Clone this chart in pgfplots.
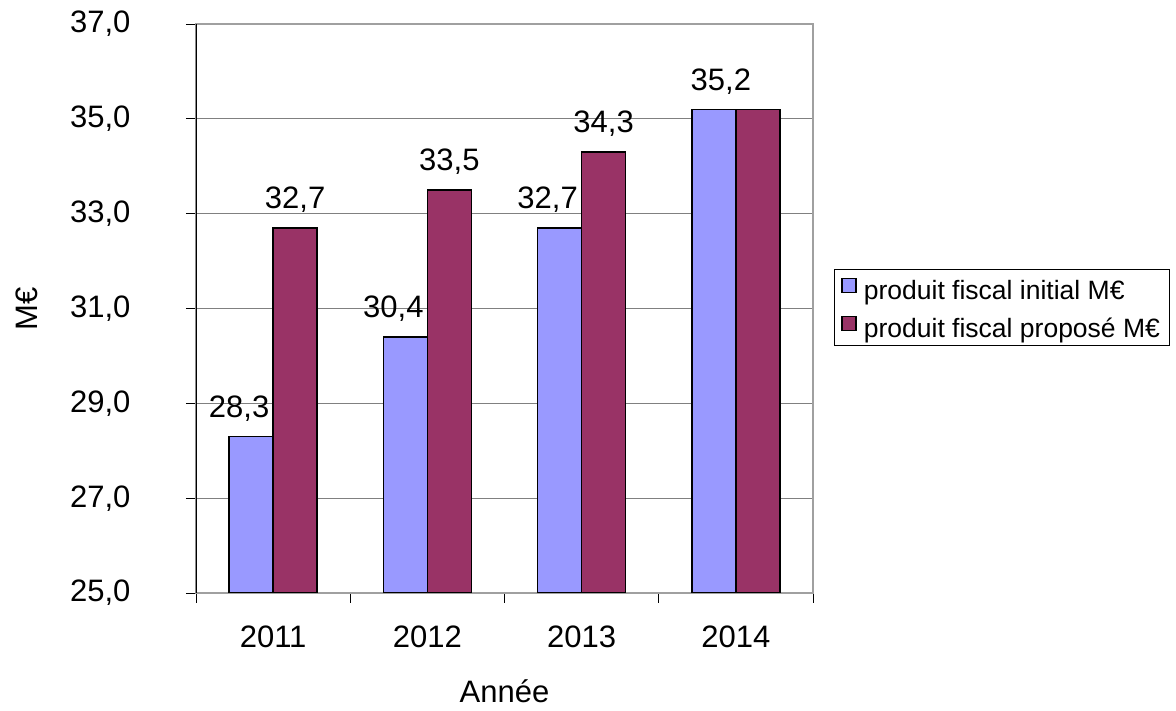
\documentclass[border=0pt]{standalone}
\usepackage{pgfplots}
\pgfplotsset{compat=1.18}
\usepackage{fontspec}
\setmainfont{Liberation Sans}
\definecolor{cblue}{HTML}{9999FF}
\definecolor{cplum}{HTML}{993366}
\definecolor{gridg}{HTML}{808080}
\definecolor{frameg}{HTML}{A0A0A0}
\begin{document}
\begin{tikzpicture}[x=1pt,y=1pt]
\path[use as bounding box] (0,0) rectangle (1176,711);
\begin{axis}[
  at={(196pt,118pt)}, anchor=south west,
  scale only axis, width=617pt, height=569pt,
  xmin=-0.5, xmax=3.5, ymin=25, ymax=37,
  ytick={25,27,29,31,33,35,37},
  xtick={0,1,2,3}, xticklabels={2011,2012,2013,2014},
  minor xtick={-0.5,0.5,1.5,2.5,3.5},
  tick align=outside,
  xtick pos=bottom, ytick pos=left,
  major tick length=10pt, minor tick length=10pt,
  x tick style={draw=none},
  minor x tick style={draw=black, line width=0.8pt},
  y tick style={draw=black, line width=0.8pt},
  ymajorgrids, major grid style={gridg, line width=1pt},
  axis line style={frameg, line width=1.8pt},
  /pgf/number format/use comma,
  /pgf/number format/fixed,
  /pgf/number format/fixed zerofill,
  /pgf/number format/precision=1,
  /pgf/number format/assume math mode=true,
  ticklabel style={font=\fontsize{31}{36}\selectfont},
  yticklabel style={xshift=-52pt},
  xticklabel style={yshift=-19pt},
  ylabel={M€}, xlabel={Année},
  label style={font=\fontsize{31}{36}\selectfont},
  ylabel style={at={(rel axis cs:0,0.5)}, anchor=center, yshift=169pt},
  xlabel style={at={(rel axis cs:0.5,0)}, anchor=base, yshift=-110pt},
  ybar=0pt, bar width=44pt,
  every node near coord/.append style={font=\fontsize{31}{36}\selectfont, black, yshift=11pt},
  legend style={at={(1.034,0.5694)}, anchor=north west, draw=black, line width=0.8pt,
    font=\fontsize{26.5}{31}\selectfont, inner xsep=7pt, inner ysep=5pt,
    row sep=10pt, nodes={inner sep=2pt, text height=23pt, text depth=1pt},
    /tikz/every odd column/.append style={column sep=5pt}},
  legend cell align=left,
  legend image code/.code={\draw[#1, draw=black, line width=1.5pt] (0pt,-4pt) rectangle (14pt,10pt);},
]
\addplot[fill=cblue, draw=black, line width=1.5pt, bar shift=-22pt,
  nodes near coords, every node near coord/.append style={xshift=-12pt}]
  coordinates {(0,28.3) (1,30.4) (2,32.7)};
\addplot[fill=cplum, draw=black, line width=1.5pt, bar shift=22pt, nodes near coords]
  coordinates {(0,32.7) (1,33.5) (2,34.3)};
\addplot[fill=cblue, draw=black, line width=1.5pt, bar shift=-22pt, forget plot]
  coordinates {(3,35.2)};
\addplot[fill=cplum, draw=black, line width=1.5pt, bar shift=22pt, forget plot,
  nodes near coords, every node near coord/.append style={xshift=-37pt}]
  coordinates {(3,35.2)};
\legend{produit fiscal initial M€, produit fiscal proposé M€}
\draw[black, line width=1.2pt] (rel axis cs:0,0) -- (rel axis cs:0,1);
\end{axis}
\end{tikzpicture}
\end{document}
